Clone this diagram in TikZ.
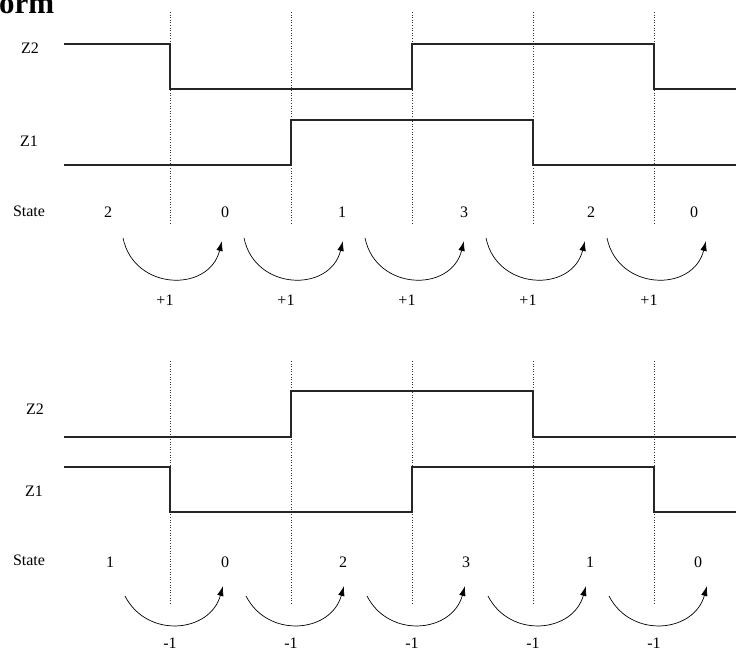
\documentclass[tikz,border=0pt]{standalone}
\usepackage{fontspec}
\setmainfont{Liberation Serif}
\usetikzlibrary{arrows.meta}
\begin{document}
\begin{tikzpicture}[x=1pt,y=-1pt,
  wave/.style={line width=1.2pt,draw=black!85},
  guide/.style={line width=0.6pt,dotted,draw=black!80},
  lbl/.style={font=\fontsize{16}{18}\selectfont,inner sep=0pt},
  num/.style={font=\fontsize{16}{18}\selectfont,inner sep=0pt},
  turn/.style={line width=0.7pt,-{Latex[length=10pt,width=6.5pt]}}]
\useasboundingbox (0,0) rectangle (736,655);
% title fragment
\node[anchor=base west,inner sep=0pt,font=\fontsize{31}{33}\selectfont\bfseries] (title) at (-1,14) {orm};
% ---------- top diagram ----------
\foreach \x [count=\i] in {170,291,412,533,654}
  \draw[guide] (\x,12) -- (\x,223);
\node[lbl] (tz2) at (30,48) {Z2};
\node[lbl] (tz1) at (29,141) {Z1};
\node[lbl] (tst) at (29,211) {State};
\draw[wave] (64,44) -- (170,44) -- (170,89) -- (412,89) -- (412,44) -- (654,44) -- (654,89) -- (736,89);
\draw[wave] (64,165) -- (291,165) -- (291,120) -- (533,120) -- (533,165) -- (736,165);
\foreach \x/\v [count=\i] in {108/2,225/0,342/1,464/3,591/2,694/0}
  \node[num] (ts\i) at (\x,212) {\v};
\foreach \i in {0,...,4}{
  \coordinate (ta\i) at ({123+121*\i},238);
  \coordinate (tb\i) at ({222+121*\i},241);
  \draw[turn] (ta\i) .. controls +(11,53) and +(-13,52) .. (tb\i);
  \node[num] (tp\i) at ({165+121*\i},300) {+1};
}
% ---------- bottom diagram ----------
\foreach \x [count=\i] in {170,291,412,533,654}
  \draw[guide] (\x,361) -- (\x,603);
\node[lbl] (bz2) at (35,409) {Z2};
\node[lbl] (bz1) at (34,491) {Z1};
\node[lbl] (bst) at (29,560) {State};
\draw[wave] (64,437) -- (291,437) -- (291,391) -- (533,391) -- (533,437) -- (736,437);
\draw[wave] (64,467) -- (170,467) -- (170,512) -- (412,512) -- (412,467) -- (654,467) -- (654,512) -- (736,512);
\foreach \x/\v [count=\i] in {110/1,225/0,343/2,466/3,590/1,698/0}
  \node[num] (bs\i) at (\x,562) {\v};
\foreach \i in {0,...,4}{
  \coordinate (ba\i) at ({125+121*\i},596);
  \coordinate (bb\i) at ({223+121*\i},586);
  \draw[turn] (ba\i) .. controls +(22,43) and +(-13,47) .. (bb\i);
  \node[num] (bm\i) at ({170+121*\i},643) {-1};
}
\end{tikzpicture}
\end{document}
